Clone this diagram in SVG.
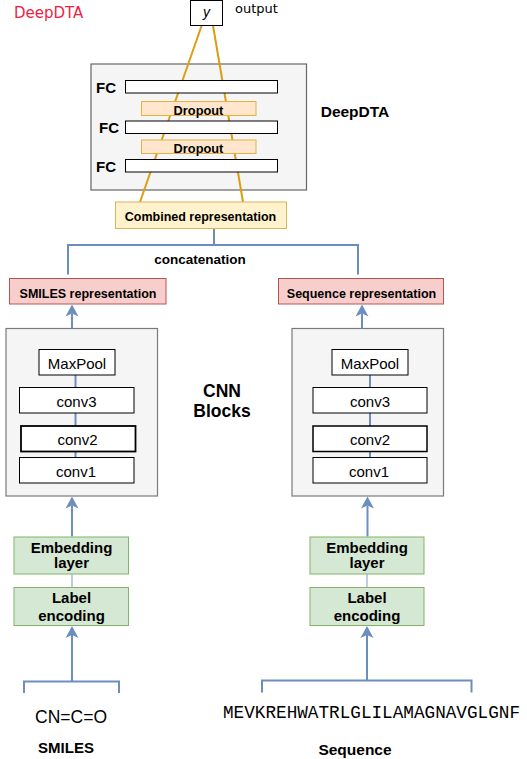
<svg xmlns="http://www.w3.org/2000/svg" width="527" height="759" viewBox="0 0 527 759">
<style>
text{font-family:"Liberation Sans",Arial,sans-serif;fill:#000}
.b{font-weight:bold}
.c{text-anchor:middle}
.box{fill:#fff;stroke:#000;stroke-width:1}
.grey{fill:#f5f5f5;stroke:#7a7a7a;stroke-width:1.2}
.drop{fill:#ffe6cc;stroke:#e8b040;stroke-width:1}
.comb{fill:#fff2cc;stroke:#d6b656;stroke-width:1}
.rep{fill:#f8cecc;stroke:#b85450;stroke-width:1}
.grn{fill:#d5e8d4;stroke:#82b366;stroke-width:1}
.blue{fill:none;stroke:#6c8ebf;stroke-width:2}
.org{fill:none;stroke:#d99e14;stroke-width:2}
</style>
<defs>
<marker id="arr" viewBox="0 -7 12 14" refX="3" refY="0" markerWidth="12" markerHeight="14" markerUnits="userSpaceOnUse" orient="auto">
<path d="M12,0 L0,-6.5 L3,0 L0,6.5 Z" fill="#6c8ebf"/>
</marker>
</defs>

<text x="14" y="18.3" style="font-family:'DejaVu Sans',sans-serif;font-size:15px;fill:#f01e46">DeepDTA</text>

<g id="deepdta-block">
<rect class="grey" x="91" y="64" width="215.5" height="126" style="stroke:#666"/>
<text class="b c" x="355" y="116.5" font-size="15.5">DeepDTA</text>
</g>
<g id="cnn-left">
<rect class="grey" x="6" y="328.5" width="151.5" height="167.5"/>
</g>
<g id="cnn-right">
<rect class="grey" x="292" y="328.5" width="151.5" height="167.5"/>
</g>

<g id="connectors">
<line class="org" x1="201.7" y1="25.5" x2="140" y2="202"/>
<line class="org" x1="213" y1="25.5" x2="243" y2="202"/>
<polyline class="blue" points="214,228.5 214,245 68,245 68,274.5"/>
<polyline class="blue" points="214,245 358,245 358,274.5"/>
<line class="blue" x1="72" y1="328.5" x2="72" y2="313.5" marker-end="url(#arr)"/>
<line class="blue" x1="362" y1="328.5" x2="362" y2="313.5" marker-end="url(#arr)"/>
<line class="blue" x1="75.5" y1="375" x2="75.5" y2="458"/>
<line class="blue" x1="370" y1="375" x2="370" y2="458"/>
<line class="blue" x1="72" y1="536.5" x2="72" y2="505.5" marker-end="url(#arr)"/>
<line class="blue" x1="367.5" y1="536.5" x2="367.5" y2="505.5" marker-end="url(#arr)"/>
<line x1="72" y1="574" x2="72" y2="587.5" stroke="#a9bfdc" stroke-width="1.5"/>
<line x1="367" y1="574" x2="367" y2="587.5" stroke="#a9bfdc" stroke-width="1.5"/>
<line class="blue" x1="72" y1="681.5" x2="72" y2="635" marker-end="url(#arr)"/>
<line class="blue" x1="367" y1="680.5" x2="367" y2="635" marker-end="url(#arr)"/>
<polyline class="blue" points="24,693 24,681.5 119,681.5 119,693"/>
<polyline class="blue" points="262,692.5 262,680.5 471.5,680.5 471.5,692.5"/>
<text class="b c" x="200" y="264" font-size="13.5">concatenation</text>
</g>

<g id="output-y">
<rect class="box" x="190.5" y="0.5" width="32" height="25"/>
<text class="c" x="206.5" y="17" font-size="14" font-style="italic">y</text>
<text x="235" y="13" style="font-family:'DejaVu Sans',sans-serif;font-size:13px">output</text>
</g>

<g id="fc1">
<rect class="box" x="125.5" y="80.5" width="152" height="12.5"/>
<text class="b" x="96" y="93" font-size="15">FC</text>
</g>
<g id="dropout1">
<rect class="drop" x="141.5" y="101.5" width="114.5" height="14"/>
<text class="b c" x="198.5" y="114.5" font-size="12.8">Dropout</text>
</g>
<g id="fc2">
<rect class="box" x="125.5" y="121" width="152" height="12.5"/>
<text class="b" x="99" y="133.3" font-size="15">FC</text>
</g>
<g id="dropout2">
<rect class="drop" x="141.5" y="140" width="114.5" height="13.5"/>
<text class="b c" x="198.5" y="153" font-size="12.8">Dropout</text>
</g>
<g id="fc3">
<rect class="box" x="125.5" y="159.5" width="152" height="12.5"/>
<text class="b" x="96" y="172" font-size="15">FC</text>
</g>

<g id="combined">
<rect class="comb" x="115.5" y="202" width="171" height="26.5"/>
<text class="b c" x="200.5" y="220.5" font-size="12.5">Combined representation</text>
</g>

<g id="smiles-rep">
<rect class="rep" x="9.5" y="278.5" width="156.5" height="25.5"/>
<text class="b c" x="88" y="297.8" font-size="12.5">SMILES representation</text>
</g>
<g id="seq-rep">
<rect class="rep" x="278.5" y="278.5" width="165" height="25.5"/>
<text class="b c" x="361.5" y="297.8" font-size="12.5">Sequence representation</text>
</g>

<text class="b c" x="222" y="396.7" font-size="17.5">CNN</text>
<text class="b c" x="222" y="417.3" font-size="17.5">Blocks</text>

<g id="maxpool-left">
<rect class="box" x="39" y="349.5" width="76" height="25.5"/>
<text class="c" x="77" y="369" font-size="15">MaxPool</text>
</g>
<g id="conv3-left">
<rect class="box" x="19.5" y="387.5" width="114.5" height="25.5"/>
<text class="c" x="76.5" y="406.5" font-size="15">conv3</text>
</g>
<g id="conv2-left">
<rect class="box" x="21" y="426" width="114.5" height="25.5" style="stroke-width:1.8"/>
<text class="c" x="77.5" y="445" font-size="15">conv2</text>
</g>
<g id="conv1-left">
<rect class="box" x="19.5" y="457.5" width="114.5" height="25.5"/>
<text class="c" x="76" y="476.5" font-size="15">conv1</text>
</g>

<g id="maxpool-right">
<rect class="box" x="332" y="349.5" width="76" height="25.5"/>
<text class="c" x="370" y="369" font-size="15">MaxPool</text>
</g>
<g id="conv3-right">
<rect class="box" x="313" y="387.5" width="114" height="25.5"/>
<text class="c" x="370" y="406.5" font-size="15">conv3</text>
</g>
<g id="conv2-right">
<rect class="box" x="313" y="426" width="114" height="25.5" style="stroke-width:1.5"/>
<text class="c" x="370" y="445" font-size="15">conv2</text>
</g>
<g id="conv1-right">
<rect class="box" x="313" y="457.5" width="114" height="25.5"/>
<text class="c" x="369" y="476.5" font-size="15">conv1</text>
</g>

<g id="embedding-left">
<rect class="grn" x="14" y="537" width="114.5" height="37"/>
<text class="b c" x="71.5" y="552.7" font-size="15">Embedding</text>
<text class="b c" x="71.5" y="568.3" font-size="15">layer</text>
</g>
<g id="label-left">
<rect class="grn" x="14" y="587.5" width="114.5" height="38"/>
<text class="b c" x="71.5" y="603.3" font-size="15">Label</text>
<text class="b c" x="71.5" y="620.5" font-size="15">encoding</text>
</g>
<g id="embedding-right">
<rect class="grn" x="310" y="537" width="114" height="37"/>
<text class="b c" x="367" y="552.7" font-size="15">Embedding</text>
<text class="b c" x="367" y="568.3" font-size="15">layer</text>
</g>
<g id="label-right">
<rect class="grn" x="310" y="587.5" width="114" height="38"/>
<text class="b c" x="367" y="603.3" font-size="15">Label</text>
<text class="b c" x="367" y="620.5" font-size="15">encoding</text>
</g>

<g id="smiles-input">
<text x="35" y="723" font-size="18.5" textLength="72" lengthAdjust="spacingAndGlyphs">CN=C=O</text>
<text class="b c" x="66" y="753.3" font-size="15">SMILES</text>
</g>
<g id="sequence-input">
<text x="223" y="718" style="font-family:'Courier New','Liberation Mono',monospace;font-size:17.7px" textLength="297" lengthAdjust="spacingAndGlyphs">MEVKREHWATRLGLILAMAGNAVGLGNF</text>
<text class="b c" x="355" y="755" font-size="15.5">Sequence</text>
</g>
</svg>
